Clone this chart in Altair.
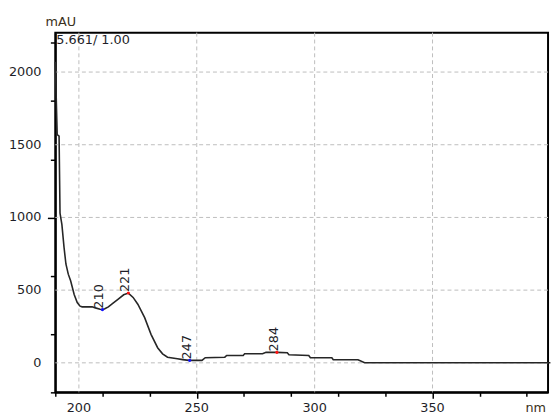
import altair as alt
import pandas as pd

# Spectrum (wavelength nm, absorbance mAU)
wavelength = [190, 190.8, 191.6, 192.0, 192.8, 193.7, 194.5, 195.5, 196.5, 198.0, 199.3,
              200.5, 201.4, 205.6, 207.0, 209.0, 210.0, 211.0, 212.5, 214.5, 216.7, 219.0,
              221.0, 223.0, 225.0, 227.9, 230.6, 233.4, 235.5, 237.6, 241.8, 244.0, 246.7,
              252.2, 253.6, 261.9, 262.7, 269.7, 270.3, 277.9, 279.4, 284.0, 288.4, 289.1,
              297.5, 298.2, 307.3, 307.9, 318.4, 321.2, 400.0]
absorb = [2070, 1570, 1560, 1030, 950, 795, 680, 610, 565, 470, 415,
          390, 385, 385, 378, 369, 366, 372, 385, 410, 438, 468,
          480, 450, 403, 311, 196, 104, 62, 39, 28, 22, 17,
          17, 35, 39, 51, 51, 62, 62, 72, 72, 69, 55,
          51, 35, 35, 21, 21, 0, 0]

peak_nm = [210, 221, 247, 284]
peak_val = [366, 480, 17, 72]
peak_label = ["210", "221", "247", "284"]
peak_color = ["#1010ff", "#ff1010", "#1010ff", "#ff1010"]

x_ticks = list(range(190, 400, 10))
y_ticks = list(range(-200, 2201, 100))
x_major = [200, 250, 300, 350]
y_major = [0, 500, 1000, 1500, 2000]

FONT = "DejaVu Sans"
TXT = "#1e1e28"

spec = pd.DataFrame({"nm": wavelength, "mAU": absorb})
peaks = pd.DataFrame({"nm": peak_nm, "mAU": peak_val, "label": peak_label, "color": peak_color})

xscale = alt.Scale(domain=[190, 399], nice=False, zero=False)
yscale = alt.Scale(domain=[-203, 2271], nice=False, zero=False)

xaxis = alt.Axis(values=x_ticks, title=None, labels=False, grid=False,
                 tickSize={"condition": {"test": "datum.value % 50 === 0", "value": 6}, "value": 4},
                 tickColor="black", tickWidth=1.5, domainColor="black", domainWidth=2)
yaxis = alt.Axis(values=y_ticks, title=None, labels=False, grid=False,
                 tickSize={"condition": {"test": "datum.value % 500 === 0", "value": 8}, "value": 5},
                 tickColor="black", tickWidth=1.5, domainColor="black", domainWidth=2)

vgrid = alt.Chart(pd.DataFrame({"g": x_major})).mark_rule(
    color="#bdbdbd", strokeWidth=1, strokeDash=[4, 3]).encode(
    x=alt.X("g:Q", scale=xscale, axis=xaxis))
hgrid = alt.Chart(pd.DataFrame({"g": y_major})).mark_rule(
    color="#bdbdbd", strokeWidth=1, strokeDash=[4, 3]).encode(
    y=alt.Y("g:Q", scale=yscale, axis=yaxis))

xlab = alt.Chart(pd.DataFrame({"g": x_major})).mark_text(
    align="center", baseline="top", font=FONT, fontSize=13, color=TXT).encode(
    x=alt.X("g:Q", scale=xscale), y=alt.value(375), text=alt.Text("g:Q", format="d"))
ylab = alt.Chart(pd.DataFrame({"g": y_major})).mark_text(
    align="right", baseline="middle", font=FONT, fontSize=13, color=TXT).encode(
    y=alt.Y("g:Q", scale=yscale), x=alt.value(-14), text=alt.Text("g:Q", format="d"))

line = alt.Chart(spec).mark_line(color="#262626", strokeWidth=1.6, interpolate="linear").encode(
    x=alt.X("nm:Q", scale=xscale),
    y=alt.Y("mAU:Q", scale=yscale),
)

dots = alt.Chart(peaks).mark_point(filled=True, size=10, opacity=1).encode(
    x=alt.X("nm:Q", scale=xscale),
    y=alt.Y("mAU:Q", scale=yscale),
    color=alt.Color("color:N", scale=None),
)

labels = alt.Chart(peaks).mark_text(angle=270, align="left", baseline="alphabetic",
                                    font=FONT, fontSize=13, color=TXT, dx=1, dy=1).encode(
    x=alt.X("nm:Q", scale=xscale),
    y=alt.Y("mAU:Q", scale=yscale),
    text="label:N",
)

anno = pd.DataFrame({"t": ["5.661/ 1.00"]})
top_text = alt.Chart(anno).mark_text(align="left", baseline="top", font=FONT, fontSize=13,
                                     color=TXT).encode(
    x=alt.value(1), y=alt.value(2), text="t:N")

unit_y = pd.DataFrame({"t": ["mAU"]})
mau = alt.Chart(unit_y).mark_text(align="left", baseline="bottom", font=FONT, fontSize=13,
                                  color="#3a3020").encode(
    x=alt.value(-10), y=alt.value(-4), text="t:N")

unit_x = pd.DataFrame({"t": ["nm"]})
nm = alt.Chart(unit_x).mark_text(align="right", baseline="top", font=FONT, fontSize=13,
                                 color="#3a3020").encode(
    x=alt.value(498), y=alt.value(375), text="t:N")

chart = alt.layer(vgrid, hgrid, line, dots, labels, xlab, ylab, top_text, mau, nm).properties(
    width=500, height=365,
    autosize=alt.AutoSizeParams(type="none"),
    padding={"left": 48, "top": 22, "right": 3, "bottom": 22},
    background="white",
).configure_view(stroke="black", strokeWidth=2)

chart.save("out.html", embed_options={"renderer": "svg", "actions": False})
